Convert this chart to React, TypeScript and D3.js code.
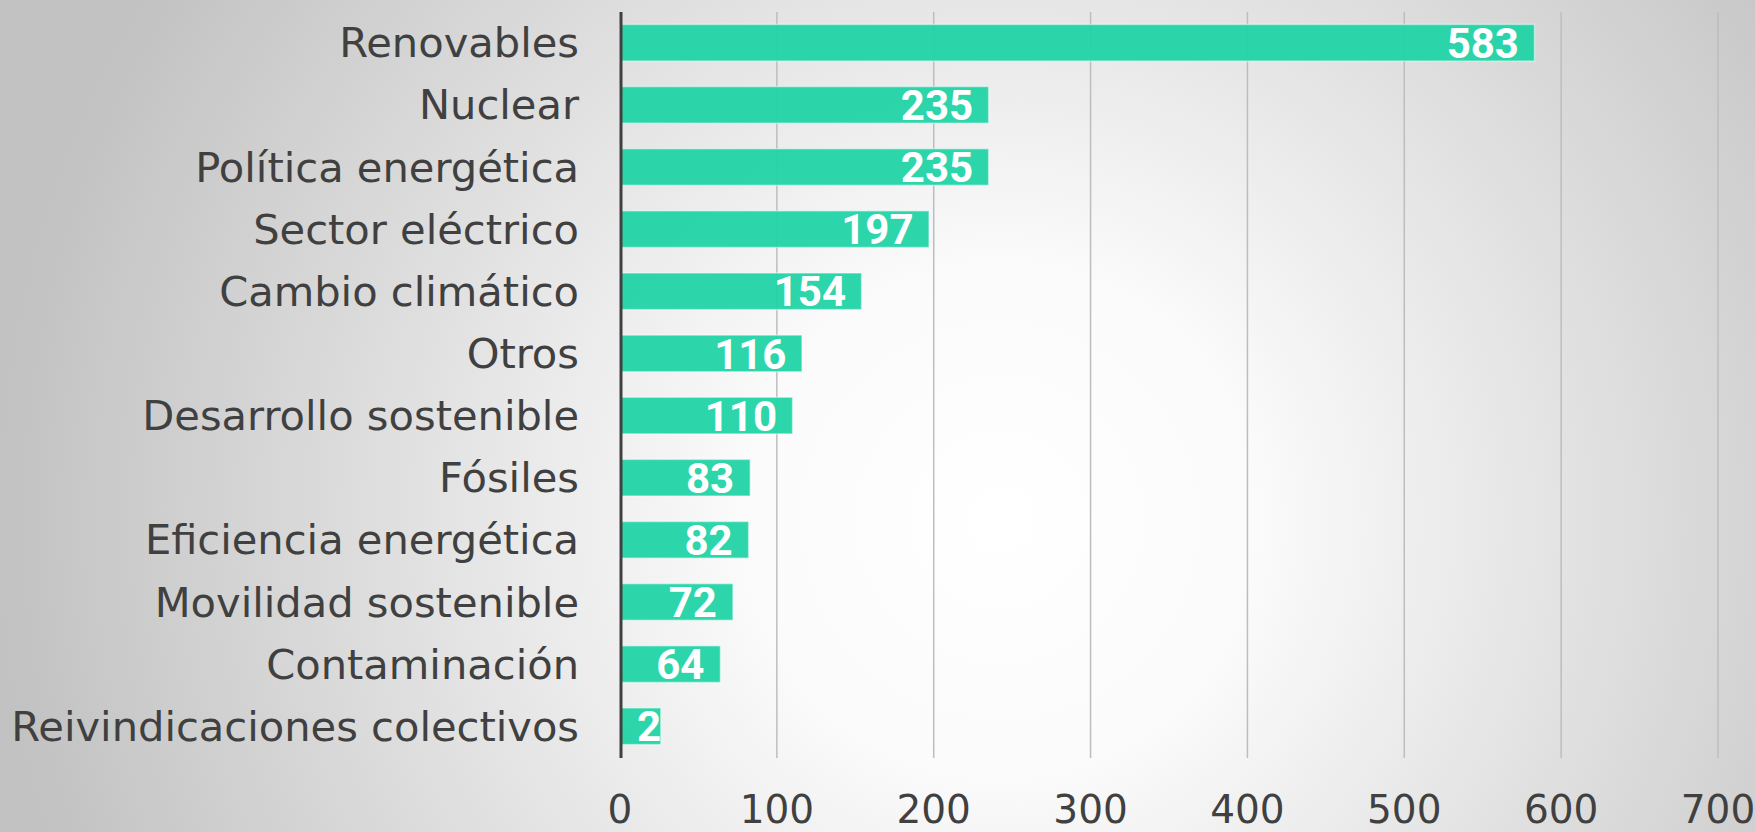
import * as d3 from 'd3';

const categories = [
  'Renovables',
  'Nuclear',
  'Política energética',
  'Sector eléctrico',
  'Cambio climático',
  'Otros',
  'Desarrollo sostenible',
  'Fósiles',
  'Eficiencia energética',
  'Movilidad sostenible',
  'Contaminación',
  'Reivindicaciones colectivos',
];

const values = [583, 235, 235, 197, 154, 116, 110, 83, 82, 72, 64, 26];

const xTicks = [0, 100, 200, 300, 400, 500, 600, 700];

const WIDTH = 1755;
const HEIGHT = 832;
const BAR_COLOR = '#22d3a6';
const TEXT_COLOR = '#404040';

export default function App() {
  const x = d3.scaleLinear().domain([0, 700]).range([620, 1718]);
  const y = d3.scaleBand<string>().domain(categories).range([12, 757]).paddingInner(0.41).paddingOuter(0.2);

  const top = 12;
  const bottom = 758;
  const valueFont = 42;

  return (
    <svg
      width={WIDTH}
      height={HEIGHT}
      style={{ position: 'absolute', left: 0, top: 0, display: 'block' }}
    >
      <defs>
        <radialGradient
          id="bg"
          cx={1000}
          cy={520}
          r={1000}
          gradientUnits="userSpaceOnUse"
        >
          <stop offset="0" stopColor="#ffffff" />
          <stop offset="0.25" stopColor="#fbfbfb" />
          <stop offset="0.6" stopColor="#e0e0e0" />
          <stop offset="1" stopColor="#c2c2c2" />
        </radialGradient>
        {/* value labels stay inside their bar */}
        {categories.map((c, i) => (
          <clipPath key={c} id={`clip-${i}`}>
            <rect x={x(0)} y={y(c)} width={x(values[i]) - x(0)} height={y.bandwidth()} />
          </clipPath>
        ))}
      </defs>
      <rect x={0} y={0} width={WIDTH} height={HEIGHT} fill="url(#bg)" />

      {/* gridlines */}
      {xTicks.slice(1).map((t) => (
        <line key={t} x1={x(t)} x2={x(t)} y1={top} y2={bottom} stroke="#bdbdbd" strokeWidth={1.5} />
      ))}

      {/* bars */}
      {categories.map((c, i) => (
        <rect
          key={c}
          x={x(0)}
          y={y(c)}
          width={x(values[i]) - x(0)}
          height={y.bandwidth()}
          fill={BAR_COLOR}
          fillOpacity={0.95}
          stroke="rgba(255,255,255,0.45)"
          strokeWidth={1.5}
        />
      ))}

      {/* axis line */}
      <line x1={x(0) + 1} x2={x(0) + 1} y1={top} y2={bottom} stroke={TEXT_COLOR} strokeWidth={3} />

      {/* category labels */}
      {categories.map((c) => (
        <text
          key={c}
          x={579}
          y={(y(c) ?? 0) + y.bandwidth() / 2}
          dy="0.35em"
          textAnchor="end"
          fill={TEXT_COLOR}
          fontFamily="'DejaVu Sans', sans-serif"
          fontSize={41.6}
        >
          {c}
        </text>
      ))}

      {/* value labels */}
      {categories.map((c, i) => {
        const label = String(values[i]);
        const w = label.length * 0.562 * valueFont;
        const lx = Math.max(x(values[i]) - 17 - w, x(0) + 17);
        return (
          <text
            key={c}
            x={lx}
            y={(y(c) ?? 0) + y.bandwidth() / 2}
            dy="0.36em"
            textAnchor="start"
            fill="#ffffff"
            fontFamily="Roboto, sans-serif"
            fontWeight="bold"
            fontSize={valueFont}
            clipPath={`url(#clip-${i})`}
          >
            {label}
          </text>
        );
      })}

      {/* tick labels */}
      {xTicks.map((t) => (
        <text
          key={t}
          x={x(t)}
          y={823}
          textAnchor="middle"
          fill={TEXT_COLOR}
          fontFamily="'DejaVu Sans', sans-serif"
          fontSize={39}
        >
          {t}
        </text>
      ))}
    </svg>
  );
}
